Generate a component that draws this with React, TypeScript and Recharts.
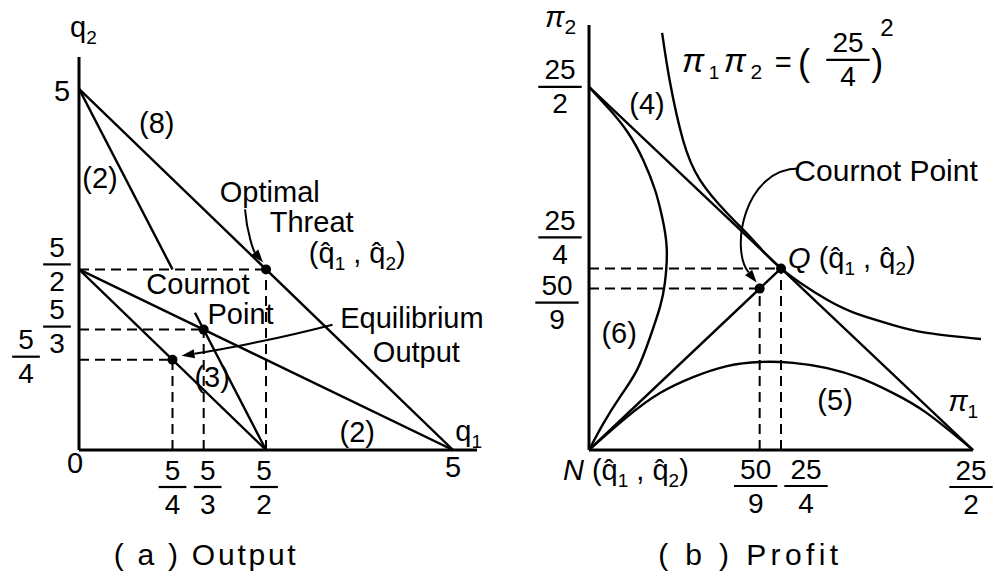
import React from "react";
import {
  ComposedChart,
  Line,
  XAxis,
  YAxis,
  ReferenceLine,
  ReferenceDot,
} from "recharts";

const FONT = "'Liberation Sans', Arial, sans-serif";
const INK = "#000";

type Pt = { x: number; y: number };

// ---------- (a) output space: q1 across, q2 up ----------
const outputXTicks = [0, 5 / 4, 5 / 3, 5 / 2, 5];
const outputXTickLabels = ["0", "5/4", "5/3", "5/2", "5"];
const outputYTicks = [5 / 4, 5 / 3, 5 / 2, 5];
const outputYTickLabels = ["5/4", "5/3", "5/2", "5"];

const totalOutput: Pt[] = [{ x: 0, y: 5 }, { x: 5, y: 0 }]; // (8)
const reaction1Top: Pt[] = [{ x: 0, y: 5 }, { x: 5 / 4, y: 5 / 2 }];
const reaction1Bottom: Pt[] = [{ x: 1.55, y: 1.9 }, { x: 5 / 2, y: 0 }];
const reaction2: Pt[] = [{ x: 0, y: 5 / 2 }, { x: 5, y: 0 }];
const jointOutput: Pt[] = [{ x: 0, y: 5 / 2 }, { x: 5 / 2, y: 0 }];
// optimal threat, Cournot point, equilibrium output
const outputPoints: Pt[] = [
  { x: 5 / 2, y: 5 / 2 },
  { x: 5 / 3, y: 5 / 3 },
  { x: 5 / 4, y: 5 / 4 },
];

// ---------- (b) profit space: pi1 across, pi2 up ----------
const profitXTicks = [50 / 9, 25 / 4, 25 / 2];
const profitXTickLabels = ["50/9", "25/4", "25/2"];
const profitYTicks = [50 / 9, 25 / 4, 25 / 2];
const profitYTickLabels = ["50/9", "25/4", "25/2"];

const frontier: Pt[] = [{ x: 0, y: 25 / 2 }, { x: 25 / 4, y: 25 / 4 }, { x: 25 / 2, y: 0 }]; // (4)
const threatRay: Pt[] = [{ x: 0, y: 0 }, { x: 25 / 4, y: 25 / 4 }];
const nashProduct: Pt[] = [
  { x: 2.38, y: 14.36 },
  { x: 2.64, y: 12.64 },
  { x: 3.06, y: 10.67 },
  { x: 3.61, y: 9.3 },
  { x: 4.49, y: 8.16 },
  { x: 5.34, y: 7.23 },
  { x: 6.25, y: 6.25 },
  { x: 7.75, y: 5.17 },
  { x: 8.82, y: 4.65 },
  { x: 9.9, y: 4.3 },
  { x: 11.0, y: 4.03 },
  { x: 12.76, y: 3.82 },
];
const curve6: Pt[] = [
  { x: 0, y: 12.5 },
  { x: 0.68, y: 11.71 },
  { x: 1.27, y: 10.92 },
  { x: 1.76, y: 9.99 },
  { x: 2.15, y: 8.95 },
  { x: 2.38, y: 8.02 },
  { x: 2.53, y: 6.95 },
  { x: 2.47, y: 5.75 },
  { x: 2.31, y: 4.92 },
  { x: 1.99, y: 3.89 },
  { x: 1.56, y: 2.75 },
  { x: 1.01, y: 1.83 },
  { x: 0.46, y: 0.9 },
  { x: 0, y: 0 },
];
const curve5: Pt[] = [
  { x: 0, y: 0 },
  { x: 1.24, y: 1.14 },
  { x: 2.31, y: 1.96 },
  { x: 3.39, y: 2.51 },
  { x: 4.49, y: 2.89 },
  { x: 5.57, y: 3.03 },
  { x: 6.64, y: 3.0 },
  { x: 7.75, y: 2.82 },
  { x: 8.82, y: 2.48 },
  { x: 9.9, y: 1.96 },
  { x: 11.0, y: 1.27 },
  { x: 12.5, y: 0 },
];
// Q and the Cournot point
const profitPoints: Pt[] = [
  { x: 25 / 4, y: 25 / 4 },
  { x: 50 / 9, y: 50 / 9 },
];

// tick label nudges (px) from the tick anchor
const outputXPlace = [
  { dx: -4, dy: 13 },
  { dx: 0, dy: 37 },
  { dx: 4, dy: 37 },
  { dx: -2, dy: 37 },
  { dx: 0, dy: 17 },
];
const outputYPlace = [
  { dx: -53, dy: -3 },
  { dx: -22, dy: -3 },
  { dx: -22, dy: -5 },
  { dx: -17, dy: 2 },
];
const profitXPlace = [
  { dx: -4, dy: 36 },
  { dx: 25, dy: 36 },
  { dx: -2, dy: 37 },
];
const profitYPlace = [
  { dx: -32, dy: 14 },
  { dx: -29, dy: -31 },
  { dx: -29, dy: 0 },
];

function fraction(label: string, x: number, y: number, size = 28) {
  const [num, den] = label.split("/");
  const w = Math.max(num.length, den.length) * size * 0.56 + 12;
  return (
    <g fontFamily={FONT} fontSize={size} fill={INK} textAnchor="middle">
      <text x={x} y={y - 17} dominantBaseline="central">{num}</text>
      <line x1={x - w / 2} x2={x + w / 2} y1={y} y2={y} stroke={INK} strokeWidth={2.2} />
      <text x={x} y={y + 17} dominantBaseline="central">{den}</text>
    </g>
  );
}

function tickLabel(label: string, x: number, y: number) {
  if (label.includes("/")) return fraction(label, x, y);
  return (
    <text x={x} y={y} textAnchor="middle" dominantBaseline="central" fontFamily={FONT} fontSize={29} fill={INK}>
      {label}
    </text>
  );
}

function makeTick(ticks: number[], labels: string[], place: { dx: number; dy: number }[]) {
  return (p: any) => {
    const i = ticks.findIndex((t) => Math.abs(t - p.payload.value) < 1e-6);
    if (i < 0) return <g />;
    return tickLabel(labels[i], p.x + place[i].dx, p.y + place[i].dy);
  };
}

// hatted output pair (q̂1 , q̂2)
const hatPair = (
  <>
    {"(q\u0302"}
    <tspan dy={7} fontSize={19}>1</tspan>
    <tspan dy={-7}>{" , q\u0302"}</tspan>
    <tspan dy={7} fontSize={19}>2</tspan>
    <tspan dy={-7}>)</tspan>
  </>
);

type Note = {
  x: number;
  y: number;
  body?: React.ReactNode;
  frac?: string;
  size?: number;
  anchor?: "start" | "middle" | "end";
  central?: boolean;
  span?: number;
};

const outputNotes: Note[] = [
  { x: -0.12, y: 5.71, anchor: "start", body: <>q<tspan dy={7} fontSize={19}>2</tspan></> },
  { x: 1.04, y: 4.53, central: true, body: "(8)" },
  { x: 0.28, y: 3.77, central: true, body: "(2)" },
  { x: 2.55, y: 3.43, body: "Optimal" },
  { x: 3.11, y: 3.02, body: "Threat" },
  { x: 3.72, y: 2.59, body: hatPair },
  { x: 1.59, y: 2.16, body: "Cournot" },
  { x: 2.16, y: 1.74, body: "Point" },
  { x: 4.45, y: 1.69, body: "Equilibrium" },
  { x: 4.51, y: 1.22, body: "Output" },
  { x: 1.78, y: 1.01, central: true, body: "(3)" },
  { x: 3.72, y: 0.25, central: true, body: "(2)" },
  { x: 5.03, y: 0.125, anchor: "start", body: <>q<tspan dy={7} fontSize={19}>1</tspan></> },
  { x: 1.68, y: -1.59, size: 30, span: 182, body: "( a )  Output" },
];

const profitNotes: Note[] = [
  { x: -1.43, y: 14.57, anchor: "start", body: <><tspan fontStyle="italic">π</tspan><tspan dy={7} fontSize={21}>2</tspan></> },
  { x: 1.89, y: 11.91, central: true, body: "(4)" },
  {
    x: 3.03,
    y: 13.02,
    anchor: "start",
    span: 80,
    body: (
      <>
        <tspan fontStyle="italic" fontSize={33}>π</tspan>
        <tspan dy={7} fontSize={19}>1</tspan>
        <tspan dy={-7} fontStyle="italic" fontSize={33}>π</tspan>
        <tspan dy={7} fontSize={21}>2</tspan>
      </>
    ),
  },
  { x: 6.32, y: 13.02, body: "=" },
  { x: 7.0, y: 12.92, size: 36, body: "(" },
  { x: 8.43, y: 13.43, frac: "25/4" },
  { x: 9.38, y: 12.92, size: 36, body: ")" },
  { x: 9.7, y: 14.53, size: 24, central: true, body: "2" },
  { x: 9.67, y: 9.26, size: 30, body: "Cournot Point" },
  { x: 6.48, y: 6.27, anchor: "start", body: <><tspan fontStyle="italic">Q</tspan>{" "}{hatPair}</> },
  { x: 0.98, y: 4.03, central: true, body: "(6)" },
  { x: 8.01, y: 1.72, central: true, body: "(5)" },
  { x: 11.69, y: 1.34, anchor: "start", body: <><tspan fontStyle="italic">π</tspan><tspan dy={7} fontSize={19}>1</tspan></> },
  { x: -0.85, y: -1.03, anchor: "start", body: <><tspan fontStyle="italic">N</tspan>{" "}{hatPair}</> },
  { x: 5.18, y: -3.96, size: 30, span: 180, body: "( b )  Profit" },
];

// curved leader arrows: target point, then start / control / end offsets in px
type Arrow = { x: number; y: number; path: number[] };
const outputArrows: Arrow[] = [
  { x: 5 / 2, y: 5 / 2, path: [-21, -60, -19, -35, -12, -18, -3, -7] },
  { x: 5 / 4, y: 5 / 4, path: [160, -35, 110, -22, 50, -10, 9, -4] },
];
const profitArrows: Arrow[] = [
  { x: 50 / 9, y: 50 / 9, path: [39, -120, -15, -120, -30, -40, -3, -6] },
];

function noteDot(n: Note, i: number) {
  return (
    <ReferenceDot
      key={`note-${i}`}
      x={n.x}
      y={n.y}
      r={0}
      ifOverflow="visible"
      shape={(p: any) =>
        n.frac ? (
          fraction(n.frac, p.cx, p.cy)
        ) : (
          <text
            x={p.cx}
            y={p.cy}
            textAnchor={n.anchor ?? "middle"}
            dominantBaseline={n.central ? "central" : "alphabetic"}
            fontFamily={FONT}
            fontSize={n.size ?? 29}
            fill={INK}
            textLength={n.span}
            lengthAdjust={n.span ? "spacing" : undefined}
          >
            {n.body}
          </text>
        )
      }
    />
  );
}

function arrowDot(a: Arrow, i: number) {
  return (
    <ReferenceDot
      key={`arrow-${i}`}
      x={a.x}
      y={a.y}
      r={0}
      ifOverflow="visible"
      shape={(p: any) => {
        const [sx, sy, c1x, c1y, c2x, c2y, ex, ey] = a.path;
        const cx = p.cx;
        const cy = p.cy;
        const ang = Math.atan2(ey - c2y, ex - c2x);
        const len = 13;
        const half = 4.5;
        const tx = cx + ex;
        const ty = cy + ey;
        const bx = tx - len * Math.cos(ang);
        const by = ty - len * Math.sin(ang);
        const head = `${tx},${ty} ${bx - half * Math.sin(ang)},${by + half * Math.cos(ang)} ${bx + half * Math.sin(ang)},${by - half * Math.cos(ang)}`;
        return (
          <g>
            <path
              d={`M${cx + sx},${cy + sy} C${cx + c1x},${cy + c1y} ${cx + c2x},${cy + c2y} ${bx},${by}`}
              fill="none"
              stroke={INK}
              strokeWidth={2}
            />
            <polygon points={head} fill={INK} />
          </g>
        );
      }}
    />
  );
}

function series(data: Pt[], key: string, curve: "linear" | "natural" = "linear") {
  return (
    <Line
      key={key}
      data={data}
      dataKey="y"
      type={curve}
      stroke={INK}
      strokeWidth={2.4}
      dot={false}
      activeDot={false}
      legendType="none"
      isAnimationActive={false}
    />
  );
}

function guides(points: Pt[], prefix: string) {
  return points.flatMap((p, i) => [
    <ReferenceLine
      key={`${prefix}-h${i}`}
      segment={[{ x: 0, y: p.y }, { x: p.x, y: p.y }]}
      stroke={INK}
      strokeWidth={2}
      strokeDasharray="10 6"
    />,
    <ReferenceLine
      key={`${prefix}-v${i}`}
      segment={[{ x: p.x, y: 0 }, { x: p.x, y: p.y }]}
      stroke={INK}
      strokeWidth={2}
      strokeDasharray="10 6"
    />,
  ]);
}

function pointDots(points: Pt[], prefix: string) {
  return points.map((p, i) => (
    <ReferenceDot key={`${prefix}-${i}`} x={p.x} y={p.y} r={5} fill={INK} stroke="none" ifOverflow="visible" />
  ));
}

const axisStroke = { stroke: INK, strokeWidth: 3 };

function OutputPanel() {
  return (
    <ComposedChart width={500} height={577} margin={{ top: 57, right: 23, bottom: 0, left: 0 }}>
      <XAxis
        dataKey="x"
        type="number"
        domain={[0, 5.32]}
        allowDataOverflow
        ticks={outputXTicks}
        interval={0}
        tickSize={0}
        tickMargin={0}
        height={127}
        axisLine={axisStroke}
        tickLine={false}
        tick={makeTick(outputXTicks, outputXTickLabels, outputXPlace)}
      />
      <YAxis
        type="number"
        domain={[0, 5.44]}
        allowDataOverflow
        ticks={outputYTicks}
        interval={0}
        tickSize={0}
        tickMargin={0}
        width={79}
        axisLine={axisStroke}
        tickLine={false}
        tick={makeTick(outputYTicks, outputYTickLabels, outputYPlace)}
      />
      {guides(outputPoints, "og")}
      {series(totalOutput, "total")}
      {series(reaction1Top, "r1top")}
      {series(reaction1Bottom, "r1bottom")}
      {series(reaction2, "r2")}
      {series(jointOutput, "joint")}
      {pointDots(outputPoints, "op")}
      {outputArrows.map(arrowDot)}
      {outputNotes.map(noteDot)}
    </ComposedChart>
  );
}

function ProfitPanel() {
  return (
    <ComposedChart width={495} height={577} margin={{ top: 25, right: 14, bottom: 0, left: 0 }}>
      <XAxis
        dataKey="x"
        type="number"
        domain={[0, 12.76]}
        allowDataOverflow
        ticks={profitXTicks}
        interval={0}
        tickSize={0}
        tickMargin={0}
        height={127}
        axisLine={false}
        tickLine={false}
        tick={makeTick(profitXTicks, profitXTickLabels, profitXPlace)}
      />
      <YAxis
        type="number"
        domain={[0, 14.63]}
        allowDataOverflow
        ticks={profitYTicks}
        interval={0}
        tickSize={0}
        tickMargin={0}
        width={89}
        axisLine={axisStroke}
        tickLine={false}
        tick={makeTick(profitYTicks, profitYTickLabels, profitYPlace)}
      />
      <ReferenceLine segment={[{ x: 0, y: 0 }, { x: 25 / 2, y: 0 }]} stroke={INK} strokeWidth={3} />
      {guides(profitPoints, "pg")}
      {series(frontier, "frontier")}
      {series(threatRay, "ray")}
      {series(nashProduct, "nash", "natural")}
      {series(curve6, "c6", "natural")}
      {series(curve5, "c5", "natural")}
      {pointDots(profitPoints, "pp")}
      {profitArrows.map(arrowDot)}
      {profitNotes.map(noteDot)}
    </ComposedChart>
  );
}

export default function App() {
  return (
    <div style={{ position: "absolute", left: 0, top: 0, width: 995, height: 577, background: "#fff" }}>
      <div style={{ position: "absolute", left: 0, top: 0 }}>
        <OutputPanel />
      </div>
      <div style={{ position: "absolute", left: 500, top: 0 }}>
        <ProfitPanel />
      </div>
    </div>
  );
}
